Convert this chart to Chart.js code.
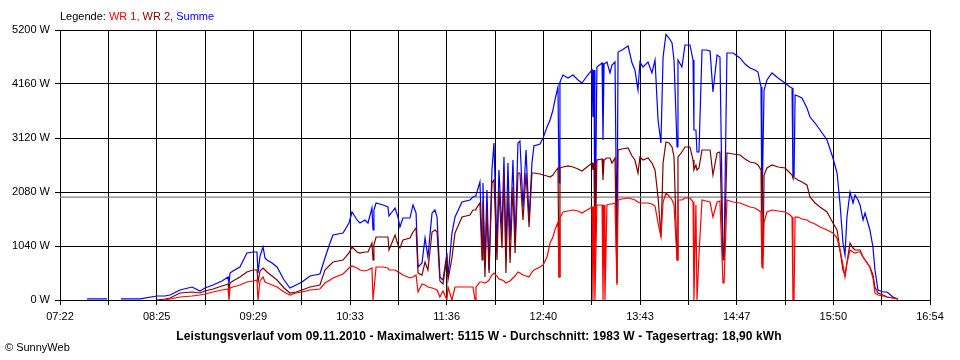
<!DOCTYPE html>
<html>
<head>
<meta charset="utf-8">
<script src="https://cdn.jsdelivr.net/npm/chart.js@4"></script>
<style>
  body { margin: 0; background: #fff; }
  #wrap { position: relative; width: 960px; height: 360px; font-family: "Liberation Sans", Arial, sans-serif; font-size: 11px; color: #000; }
  #wrap canvas { position: absolute; left: 0; top: 0; }
  .txt { position: absolute; white-space: nowrap; line-height: 13px; }
</style>
</head>
<body>
<div id="wrap">
  <canvas id="leistungChart" width="960" height="360"></canvas>
  <div class="txt" style="left:60px; top:10px;">Legende: <span style="color:#ff0000">WR 1,</span> <span style="color:#800000">WR 2,</span> <span style="color:#0000ff">Summe</span></div>
  <div class="txt" style="left:0; width:958px; top:330px; text-align:center; font-weight:bold; font-size:12px; letter-spacing:0.1px;">Leistungsverlauf vom 09.11.2010 - Maximalwert: 5115 W - Durchschnitt: 1983 W - Tagesertrag: 18,90 kWh</div>
  <div class="txt" style="left:5px; top:341px;">© SunnyWeb</div>
</div>
<script>
// Achse: Minuten seit Mitternacht (07:22 .. 16:54)
const achseStart = 442;
const achseEnde = 1014;
const zeitLabels = ['07:22', '08:25', '09:29', '10:33', '11:36', '12:40', '13:43', '14:47', '15:50', '16:54'];
const wattTicks = [0, 1040, 2080, 3120, 4160, 5200];
const durchschnitt = 1983;

// Messzeitpunkte (Minuten seit Mitternacht)
const zeiten = [
  459.8, 472.9, 477.5, 482.1, 494.6, 505.8, 511.0, 514.3, 520.9, 528.8,
  534.0, 537.3, 542.6, 548.5, 552.5, 553.1, 553.8, 555.7, 560.3, 564.9,
  568.9, 571.5, 572.2, 573.5, 575.5, 576.8, 578.1, 581.4, 584.7, 589.3,
  593.2, 597.2, 601.1, 606.4, 612.9, 616.2, 619.5, 621.5, 628.1, 632.0,
  634.0, 637.3, 639.2, 642.5, 644.5, 647.1, 647.8, 648.4, 649.8, 654.4,
  657.6, 658.3, 662.3, 664.2, 665.5, 667.5, 672.1, 674.1, 676.1, 677.4,
  680.0, 682.0, 683.9, 686.6, 688.5, 689.9, 691.8, 693.8, 696.4, 697.1,
  699.7, 701.7, 706.3, 711.6, 713.5, 714.9, 715.5, 718.1, 719.5, 720.1,
  721.4, 722.7, 724.1, 726.0, 727.3, 729.3, 730.6, 732.6, 733.9, 735.2,
  736.5, 737.9, 739.8, 741.2, 743.1, 744.4, 746.4, 748.4, 750.4, 752.3,
  753.6, 757.6, 759.6, 762.2, 764.2, 766.1, 767.4, 769.4, 770.1, 770.7,
  772.7, 776.0, 779.3, 782.6, 785.2, 788.5, 791.8, 792.4, 793.1, 793.7,
  795.0, 798.4, 799.0, 799.7, 800.3, 801.6, 803.6, 804.9, 806.9, 808.2,
  808.9, 811.5, 815.5, 818.1, 820.0, 822.0, 823.3, 825.3, 828.6, 831.2,
  833.2, 835.2, 837.1, 838.5, 840.4, 842.4, 844.4, 845.7, 847.7, 848.3,
  850.9, 852.9, 856.2, 858.2, 858.8, 860.1, 860.8, 862.1, 864.1, 866.7,
  869.4, 871.3, 874.0, 875.9, 877.9, 878.6, 880.5, 884.5, 889.1, 892.4,
  895.7, 898.9, 900.9, 902.9, 903.5, 904.2, 904.9, 906.8, 910.1, 914.1,
  918.7, 922.0, 923.3, 923.9, 924.6, 925.3, 927.2, 929.8, 933.1, 935.1,
  938.4, 941.7, 946.3, 950.2, 952.9, 954.8, 956.8, 958.1, 959.4, 961.4,
  963.4, 964.7, 966.7, 968.0, 970.0, 971.3, 974.5, 976.5, 977.8, 979.8,
  983.1, 985.7, 989.7, 993.0
];

// WR 1 (W)
const wr1 = [
  null, null, null, null, null, null, 0, 19, 58, 77,
  96, 116, 154, 193, 212, 0, 231, 250, 289, 347,
  366, 385, 0, 366, 443, 347, 327, 289, 250, 154,
  96, 135, 154, 193, 212, 327, 385, 424, 501, 616,
  655, 616, 578, 559, 578, 616, 0, 0, 636, 636,
  616, 578, 578, 539, 520, 481, 424, 443, 481, 154,
  308, 289, 250, 231, 212, 193, 58, 173, 0, 250,
  0, 250, 250, 250, 250, 0, 250, 347, 347, 347,
  327, 347, 385, 481, 520, 462, 404, 385, 366, 327,
  347, 366, 424, 462, 539, 520, 481, 462, 443, 539,
  578, 636, 674, 828, 1098, 1213, 1348, 1502, 443, 1579,
  1695, 1714, 1733, 1714, 1676, 1733, 1791, 0, 1810, 0,
  1830, 1830, 0, 1830, 0, 1830, 1849, 1849, 1868, 289,
  1926, 1945, 1964, 1945, 1926, 1887, 1868, 1868, 1868, 1849,
  1810, 1483, 1213, 1887, 2061, 2003, 1926, 1830, 770, 1926,
  1926, 1964, 1964, 1887, 0, 1830, 0, 867, 1926, 1907,
  1887, 1598, 1887, 1907, 327, 327, 1926, 1887, 1868, 1830,
  1791, 1772, 1733, 1695, 636, 616, 1502, 1695, 1733, 1714,
  1695, 1637, 1598, 0, 0, 1598, 1598, 1560, 1541, 1502,
  1464, 1406, 1348, 1290, 1194, 963, 674, 443, 713, 963,
  924, 905, 924, 924, 828, 770, 636, 424, 135, 96,
  77, 58, 39, 19
];

// WR 2 (W)
const wr2 = [
  null, null, null, null, null, 0, 19, 39, 135, 154,
  135, 173, 212, 270, 308, 193, 327, 366, 443, 539,
  578, 578, 347, 559, 616, 578, 539, 462, 385, 231,
  135, 154, 193, 250, 289, 578, 674, 732, 770, 905,
  1021, 924, 905, 924, 924, 1098, 770, 1059, 1213, 1213,
  1213, 963, 1252, 1059, 1001, 1156, 1194, 1310, 1387, 520,
  481, 732, 578, 1310, 1348, 1310, 366, 308, 828, 385,
  809, 1290, 1598, 1637, 1733, 1733, 1753, 1868, 770, 1887,
  443, 1733, 520, 2253, 2311, 770, 2118, 1001, 2446, 520,
  2061, 713, 2176, 905, 2446, 2446, 1541, 2446, 1406, 2446,
  2446, 2427, 2407, 2388, 2369, 2407, 2465, 2542, 443, 2542,
  2561, 2581, 2561, 2523, 2484, 2561, 2638, 2504, 2638, 828,
  2696, 2715, 2311, 2696, 2696, 2735, 2735, 2638, 2735, 327,
  2889, 2908, 2927, 2773, 2696, 2446, 2754, 2696, 2735, 2638,
  2504, 1984, 1213, 2638, 3043, 3024, 2947, 2754, 770, 2754,
  2850, 2947, 2947, 2696, 2504, 2600, 2504, 2542, 2889, 2889,
  2889, 2407, 2831, 2850, 770, 770, 2831, 2812, 2793, 2715,
  2658, 2638, 2600, 2504, 770, 867, 2407, 2542, 2600, 2561,
  2542, 2446, 2407, 2350, 2350, 2350, 2311, 2273, 2215, 1984,
  1868, 1791, 1695, 1483, 1348, 963, 578, 481, 713, 1098,
  1001, 963, 963, 963, 828, 770, 636, 481, 250, 135,
  96, 58, 39, 19
];

// Summe (W)
const summe = [
  20, 20, null, 20, 20, 77, 77, 96, 193, 250,
  173, 231, 289, 366, 443, 308, 520, 559, 636, 905,
  924, 924, 520, 847, 1021, 809, 770, 713, 636, 385,
  231, 289, 347, 462, 501, 809, 1098, 1252, 1290, 1483,
  1695, 1541, 1483, 1541, 1483, 1772, 1348, 1733, 1868, 1830,
  1791, 1618, 1772, 1598, 1406, 1579, 1579, 1830, 1676, 636,
  713, 1194, 828, 1676, 1733, 1598, 443, 385, 905, 443,
  1290, 1598, 1887, 1926, 1984, 2003, 2022, 2273, 1001, 2253,
  636, 2118, 578, 2504, 3024, 1021, 2504, 1348, 2754, 905,
  2638, 1156, 2696, 1098, 3024, 3062, 1791, 2889, 1541, 2638,
  2966, 3004, 3120, 3332, 3467, 3659, 3852, 4102, 2253, 4198,
  4333, 4275, 4333, 4237, 4179, 4314, 4430, 3524, 4430, 828,
  4487, 4564, 3081, 4545, 4545, 4584, 4372, 4526, 4584, 828,
  4776, 4815, 4892, 4564, 4430, 4044, 4584, 4487, 4584, 4372,
  4622, 3467, 3024, 4680, 5115, 5046, 4950, 4622, 2947, 4622,
  4487, 4911, 4911, 4622, 3274, 3274, 2850, 2850, 4815, 4815,
  4795, 4006, 4718, 4680, 828, 828, 4757, 4757, 4661, 4545,
  4468, 4430, 4391, 4102, 1598, 2889, 4044, 4237, 4372, 4275,
  4179, 4102, 4083, 2369, 2369, 3948, 3929, 3890, 3698, 3524,
  3409, 3274, 3081, 2735, 2446, 1868, 1098, 867, 1598, 2080,
  1868, 2022, 1926, 1830, 1541, 1676, 1348, 1021, 578, 193,
  154, 154, 58, 19
];

const schrift = { family: '"Liberation Sans", Arial, sans-serif', size: 11 };

// Punkte fuer Chart.js bauen
function toPoints(werte) {
  return zeiten.map((t, i) => ({ x: t, y: werte[i] }));
}

const ctx = document.getElementById('leistungChart').getContext('2d');
new Chart(ctx, {
  type: 'line',
  data: {
    datasets: [
      { label: 'WR 1', data: toPoints(wr1), borderColor: '#ff0000' },
      { label: 'WR 2', data: toPoints(wr2), borderColor: '#800000' },
      { label: 'Summe', data: toPoints(summe), borderColor: '#0000ff' },
      {
        label: 'Durchschnitt',
        data: [{ x: achseStart, y: durchschnitt }, { x: achseEnde, y: durchschnitt }],
        borderColor: '#808080',
      },
    ],
  },
  options: {
    responsive: false,
    animation: false,
    devicePixelRatio: 1,
    layout: { padding: { top: 30, right: 30, left: 0, bottom: 0 } },
    plugins: {
      legend: { display: false },
      tooltip: { enabled: false },
    },
    elements: {
      point: { radius: 0 },
      line: { borderWidth: 1.2, tension: 0, fill: false },
    },
    scales: {
      x: {
        type: 'linear',
        min: achseStart,
        max: achseEnde,
        afterBuildTicks: (scale) => {
          // 18 Felder, jede zweite Linie beschriftet
          const schritt = (achseEnde - achseStart) / 18;
          scale.ticks = Array.from({ length: 19 }, (_, i) => ({ value: achseStart + i * schritt }));
        },
        afterFit: (scale) => { scale.height = 60; },
        grid: { color: '#000', lineWidth: 1, tickLength: 5 },
        border: { color: '#000' },
        ticks: {
          autoSkip: false,
          maxRotation: 0,
          padding: 5,
          color: '#000',
          font: schrift,
          callback: (value, index) => (index % 2 === 0 ? zeitLabels[index / 2] : ''),
        },
      },
      y: {
        min: wattTicks[0],
        max: wattTicks[wattTicks.length - 1],
        afterBuildTicks: (scale) => {
          scale.ticks = wattTicks.map((v) => ({ value: v }));
        },
        afterFit: (scale) => { scale.width = 60; },
        grid: { color: '#000', lineWidth: 1, tickLength: 5 },
        border: { color: '#000' },
        ticks: {
          padding: 5,
          color: '#000',
          font: schrift,
          callback: (value) => value + ' W',
        },
      },
    },
  },
});
</script>
</body>
</html>
